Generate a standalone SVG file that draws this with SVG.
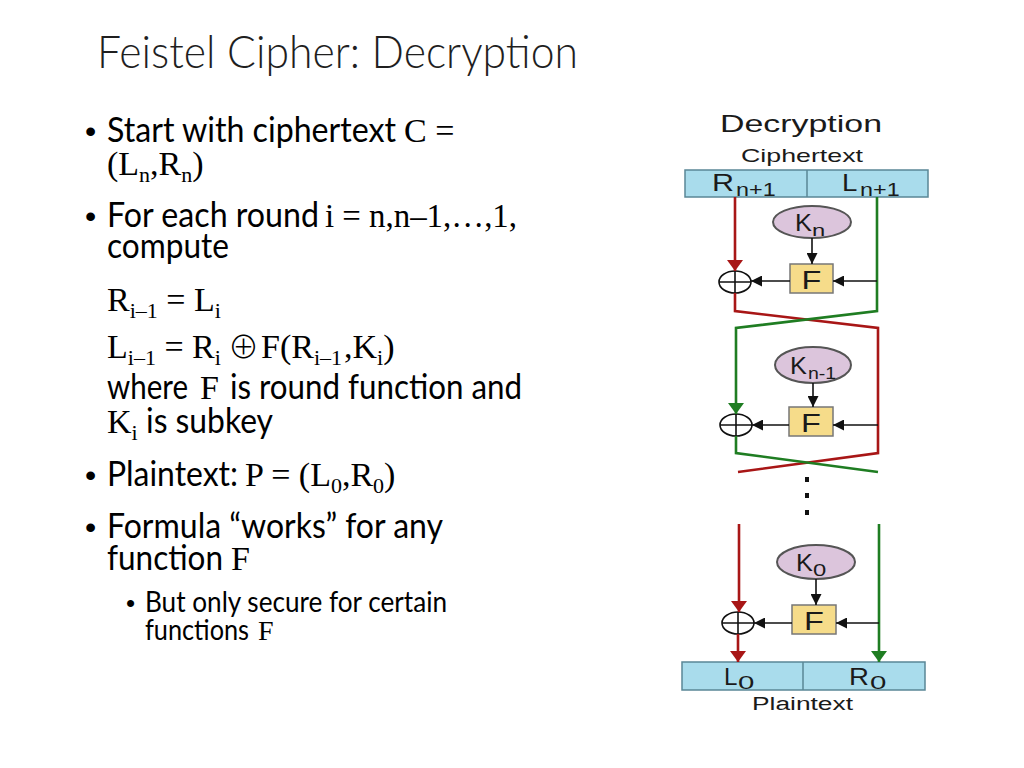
<svg xmlns="http://www.w3.org/2000/svg" width="1024" height="768" viewBox="0 0 1024 768">
<defs>
<style>
.title{font-family:Lato,"Open Sans","Liberation Sans",sans-serif;font-size:46px;font-weight:300;fill:#1f1f1f}
.s{font-family:Lato,"Open Sans","Liberation Sans",sans-serif;font-size:34px;fill:#000}
.ss{font-family:Lato,"Open Sans","Liberation Sans",sans-serif;font-size:28px;fill:#000}
.bu{font-family:"Liberation Sans",Arial,sans-serif;font-size:32px;fill:#000}
.bu2{font-family:"Liberation Sans",Arial,sans-serif;font-size:26px;fill:#000}
.m{font-family:"Liberation Serif","Times New Roman",serif;font-size:34px;fill:#000}
.m2{font-family:"Liberation Serif","Times New Roman",serif;font-size:28px;fill:#000}
.sub{font-size:22px}
.d{font-family:"Liberation Sans",Arial,sans-serif;fill:#1a1a1a}
.box{fill:#a9dcec;stroke:#5a8796;stroke-width:1.5}
.key{fill:#dcc5dc;stroke:#555;stroke-width:2}
.fbox{fill:#f6dc8a;stroke:#777;stroke-width:1.5}
.xor{fill:none;stroke:#111;stroke-width:1.6}
.red{fill:none;stroke:#a81616;stroke-width:2.6}
.green{fill:none;stroke:#1f7d22;stroke-width:2.6}
.blk{fill:none;stroke:#111;stroke-width:1.6}
</style>
<marker id="ar" markerUnits="userSpaceOnUse" markerWidth="12" markerHeight="16" refX="11" refY="8" orient="auto"><path d="M0,0 L11,8 L0,16 z" fill="#a81616"/></marker>
<marker id="ag" markerUnits="userSpaceOnUse" markerWidth="12" markerHeight="16" refX="11" refY="8" orient="auto"><path d="M0,0 L11,8 L0,16 z" fill="#1f7d22"/></marker>
<marker id="ab" markerUnits="userSpaceOnUse" markerWidth="12" markerHeight="11" refX="11" refY="5.5" orient="auto"><path d="M0,0 L11,5.5 L0,11 z" fill="#111"/></marker>
</defs>
<rect width="1024" height="768" fill="#fff"/>

<text class="title" x="97" y="68" textLength="481" lengthAdjust="spacingAndGlyphs">Feistel Cipher: Decryption</text>

<g id="bullets">
<text class="bu" x="85" y="142">•</text>
<text class="s" x="107" y="142" textLength="289" lengthAdjust="spacingAndGlyphs">Start with ciphertext</text>
<text class="m" x="404" y="142">C =</text>
<text class="m" x="107" y="175">(L<tspan class="sub" dy="7">n</tspan><tspan dy="-7">,R</tspan><tspan class="sub" dy="7">n</tspan><tspan dy="-7">)</tspan></text>

<text class="bu" x="85" y="227">•</text>
<text class="s" x="107" y="227" textLength="212" lengthAdjust="spacingAndGlyphs">For each round</text>
<text class="m" x="325" y="227" textLength="192" lengthAdjust="spacingAndGlyphs">i = n,n–1,…,1,</text>
<text class="s" x="107" y="258" textLength="122" lengthAdjust="spacingAndGlyphs">compute</text>

<text class="m" x="107" y="311">R<tspan class="sub" dy="7">i–1</tspan><tspan dy="-7"> = L</tspan><tspan class="sub" dy="7">i</tspan></text>
<text class="m" x="107" y="358">L<tspan class="sub" dy="7">i–1</tspan><tspan dy="-7"> = R</tspan><tspan class="sub" dy="7">i</tspan></text>
<text x="228" y="358" style="font-family:'Noto Sans CJK JP','DejaVu Sans',sans-serif;font-size:31px;font-weight:300;fill:#000">⊕</text>
<text class="m" x="261" y="358">F(R<tspan class="sub" dy="7">i–1</tspan></text>
<text class="m" x="344" y="358">,K<tspan class="sub" dy="7">i</tspan><tspan dy="-7">)</tspan></text>

<text class="s" x="107" y="399" textLength="81" lengthAdjust="spacingAndGlyphs">where</text>
<text class="m" x="200" y="399">F</text>
<text class="s" x="230" y="399" textLength="292" lengthAdjust="spacingAndGlyphs">is round function and</text>
<text class="m" x="107" y="433">K<tspan class="sub" dy="7">i</tspan></text>
<text class="s" x="146" y="433" textLength="127" lengthAdjust="spacingAndGlyphs">is subkey</text>

<text class="bu" x="85" y="486">•</text>
<text class="s" x="107" y="486" textLength="131" lengthAdjust="spacingAndGlyphs">Plaintext:</text>
<text class="m" x="245" y="486">P = (L<tspan class="sub" dy="7">0</tspan><tspan dy="-7">,R</tspan><tspan class="sub" dy="7">0</tspan><tspan dy="-7">)</tspan></text>

<text class="bu" x="85" y="538">•</text>
<text class="s" x="107" y="538" textLength="336" lengthAdjust="spacingAndGlyphs">Formula “works” for any</text>
<text class="s" x="107" y="570" textLength="116" lengthAdjust="spacingAndGlyphs">function</text>
<text class="m" x="231" y="570">F</text>

<text class="bu2" x="126" y="612">•</text>
<text class="ss" x="145" y="612" textLength="302" lengthAdjust="spacingAndGlyphs">But only secure for certain</text>
<text class="ss" x="145" y="640" textLength="104" lengthAdjust="spacingAndGlyphs">functions</text>
<text class="m2" x="258" y="640">F</text>
</g>

<g id="header">
<text class="d" x="720" y="132" font-size="24" textLength="162" lengthAdjust="spacingAndGlyphs">Decryption</text>
<text class="d" x="741" y="162" font-size="19" textLength="122" lengthAdjust="spacingAndGlyphs">Ciphertext</text>
</g>

<g id="ciphertext">
<rect class="box" x="685" y="170" width="243" height="27"/>
<line x1="807" y1="170" x2="807" y2="197" stroke="#5a8796" stroke-width="1.5"/>
<text class="d" transform="translate(712,191) scale(1.27,1)" font-size="24">R</text>
<text class="d" transform="translate(736,196) scale(1.3,1)" font-size="18">n+1</text>
<text class="d" transform="translate(842,191) scale(1.15,1)" font-size="24">L</text>
<text class="d" transform="translate(860,196) scale(1.3,1)" font-size="18">n+1</text>
</g>

<g id="k1">
<ellipse class="key" cx="812" cy="222" rx="39" ry="16"/>
<text class="d" transform="translate(795,231) scale(1.1,1)" font-size="23">K</text>
<text class="d" transform="translate(812,236) scale(1.4,1)" font-size="17">n</text>
</g>
<g id="f1">
<rect class="fbox" x="790" y="264" width="43" height="29"/>
<text class="d" transform="translate(811.5,289) scale(1.3,1)" font-size="25" text-anchor="middle">F</text>
</g>
<g id="x1">
<ellipse class="xor" cx="735" cy="282" rx="16" ry="11"/>
<path class="xor" d="M719,282 H751 M735,271 V293"/>
</g>

<g id="k2">
<ellipse class="key" cx="813" cy="365" rx="38" ry="18"/>
<text class="d" transform="translate(790,374) scale(1.1,1)" font-size="23">K</text>
<text class="d" transform="translate(808,379) scale(1.15,1)" font-size="17">n-1</text>
</g>
<g id="f2">
<rect class="fbox" x="789" y="407" width="44" height="29"/>
<text class="d" transform="translate(811,432) scale(1.3,1)" font-size="25" text-anchor="middle">F</text>
</g>
<g id="x2">
<ellipse class="xor" cx="736" cy="425" rx="16" ry="11"/>
<path class="xor" d="M720,425 H752 M736,414 V436"/>
</g>

<g id="dots" fill="#111">
<rect x="805" y="477" width="4" height="5"/>
<rect x="805" y="493" width="4" height="5"/>
<rect x="805" y="510" width="4" height="5"/>
</g>

<g id="k3">
<ellipse class="key" cx="816" cy="562" rx="39" ry="17"/>
<text class="d" transform="translate(796,571) scale(1.1,1)" font-size="23">K</text>
<text class="d" transform="translate(813,576) scale(1.4,1)" font-size="17">0</text>
</g>
<g id="f3">
<rect class="fbox" x="792" y="605" width="44" height="29"/>
<text class="d" transform="translate(814,630) scale(1.3,1)" font-size="25" text-anchor="middle">F</text>
</g>
<g id="x3">
<ellipse class="xor" cx="738" cy="623" rx="16" ry="11"/>
<path class="xor" d="M722,623 H754 M738,612 V634"/>
</g>

<g id="plaintext">
<rect class="box" x="682" y="662" width="243" height="28"/>
<line x1="803" y1="662" x2="803" y2="690" stroke="#5a8796" stroke-width="1.5"/>
<text class="d" transform="translate(724,685) scale(1.05,1)" font-size="23">L</text>
<text class="d" transform="translate(738,689) scale(1.55,1)" font-size="19">0</text>
<text class="d" transform="translate(849,685) scale(1.2,1)" font-size="23">R</text>
<text class="d" transform="translate(870,689) scale(1.55,1)" font-size="19">0</text>
<text class="d" x="752" y="710" font-size="18" textLength="101" lengthAdjust="spacingAndGlyphs">Plaintext</text>
</g>

<g id="connectors">
<path class="red" d="M735,197 V271" marker-end="url(#ar)"/>
<path class="red" d="M735,293 V311 L878,328 V453 L738,472"/>
<path class="green" d="M877,197 V311 L736,328 V414" marker-end="url(#ag)"/>
<path class="green" d="M736,436 V453 L878,472"/>
<path class="blk" d="M812,238 V264" marker-end="url(#ab)"/>
<path class="blk" d="M877,281 H833" marker-end="url(#ab)"/>
<path class="blk" d="M790,281 H751" marker-end="url(#ab)"/>
<path class="blk" d="M813,383 V407" marker-end="url(#ab)"/>
<path class="blk" d="M878,425 H833" marker-end="url(#ab)"/>
<path class="blk" d="M789,425 H752" marker-end="url(#ab)"/>
<path class="red" d="M739,524 V612" marker-end="url(#ar)"/>
<path class="red" d="M738,634 V662" marker-end="url(#ar)"/>
<path class="green" d="M879,524 V662" marker-end="url(#ag)"/>
<path class="blk" d="M816,579 V605" marker-end="url(#ab)"/>
<path class="blk" d="M879,623 H836" marker-end="url(#ab)"/>
<path class="blk" d="M792,623 H754" marker-end="url(#ab)"/>
</g>
</svg>
